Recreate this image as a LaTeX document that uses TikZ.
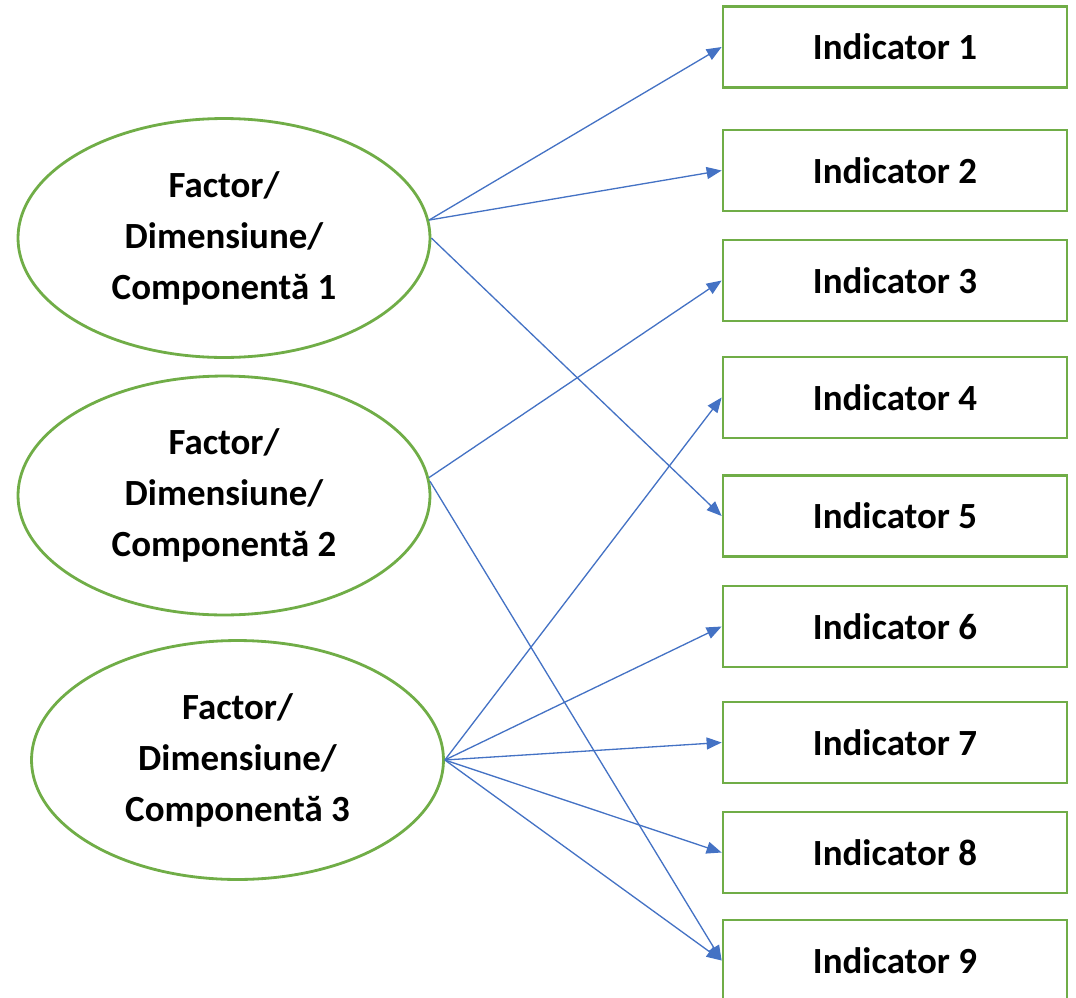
\documentclass[tikz,border=0pt]{standalone}
\usepackage{fontspec}
\setmainfont{Carlito}
\usetikzlibrary{shapes.geometric,arrows.meta}
\definecolor{officegreen}{RGB}{112,173,71}
\definecolor{officeblue}{RGB}{68,114,196}
\begin{document}
\begin{tikzpicture}[x=0.02cm,y=-0.02cm,
  link/.style={color=officeblue, line width=0.75pt, -{Triangle[length=0.3cm,width=0.24cm]}},
  indbox/.style={draw=officegreen, line width=1.6pt, shape=rectangle, minimum width=6.88cm, minimum height=1.62cm},
  factor/.style={draw=officegreen, line width=1.6pt, shape=ellipse, inner sep=0pt, minimum width=8.24cm, minimum height=4.78cm, align=center}]

\useasboundingbox (0,0) rectangle (1076,998);

\begin{scope}[every node/.style={font=\fontsize{21}{29}\selectfont\bfseries}]
    \path (895,47) node[indbox] (ind1) {Indicator 1};
    \path (ind1) +(0,123.5) node[indbox] (ind2) {Indicator 2};
    \path (ind2) +(0,110) node[indbox] (ind3) {Indicator 3};
    \path (ind3) +(0,117) node[indbox] (ind4) {Indicator 4};
    \path (ind4) +(0,118.5) node[indbox] (ind5) {Indicator 5};
    \path (ind5) +(0,110.5) node[indbox] (ind6) {Indicator 6};
    \path (ind6) +(0,116) node[indbox] (ind7) {Indicator 7};
    \path (ind7) +(0,110) node[indbox] (ind8) {Indicator 8};
    \path (ind8) +(0,108) node[indbox] (ind9) {Indicator 9};
    \path (224,238) node[factor] (fac1) {Factor/\\Dimensiune/\\Componentă 1};
    \path (fac1) +(0,257.5) node[factor] (fac2) {Factor/\\Dimensiune/\\Componentă 2};
    \path (fac2) +(13.5,264.5) node[factor] (fac3) {Factor/\\Dimensiune/\\Componentă 3};
\end{scope}


\draw[link] (fac1.5) -- (ind1.west);
\draw[link] (fac1.5) -- (ind2.west);
\draw[link] (fac1.east) -- (ind5.west);
\draw[link] (fac2.5) -- (ind3.west);
\draw[link] (fac2.4) -- (ind9.west);
\draw[link] (fac3.east) -- (ind4.west);
\draw[link] (fac3.east) -- (ind6.west);
\draw[link] (fac3.east) -- (ind7.west);
\draw[link] (fac3.east) -- (ind8.west);
\draw[link] (fac3.east) -- (ind9.west);

\end{tikzpicture}
\end{document}
